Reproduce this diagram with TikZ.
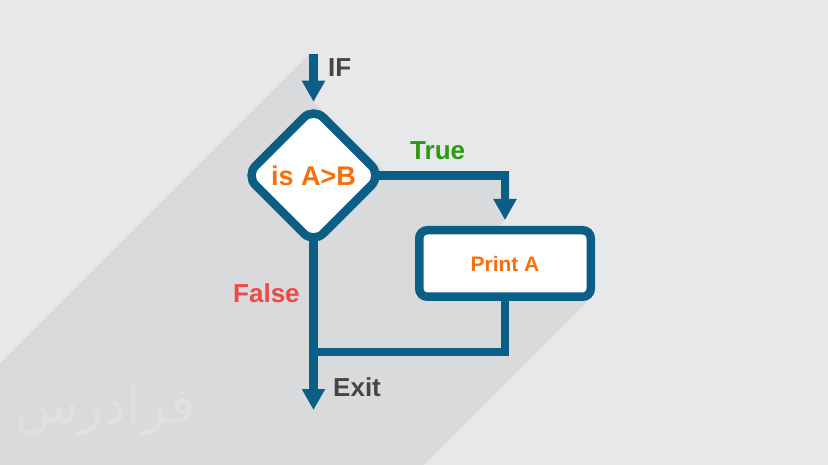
\documentclass[tikz,border=0pt]{standalone}
\usepackage{fontspec}
\setmainfont{Liberation Sans}
\newfontfamily\arabicfont[Script=Arabic]{DejaVu Sans}
\TeXXeTstate=1
\usepackage{xcolor}
\usepackage{tikz}
\usetikzlibrary{arrows.meta,positioning,shapes.geometric,backgrounds}

\definecolor{flowblue}{HTML}{0B5E85}
\definecolor{textorange}{HTML}{FA6E0A}
\definecolor{truegreen}{HTML}{2C9A10}
\definecolor{falsered}{HTML}{F04848}
\definecolor{labelgray}{HTML}{454545}
\definecolor{bggray}{HTML}{E7E8EA}
\definecolor{shadowgray}{HTML}{D9DADC}
\definecolor{markgray}{HTML}{DFE0E2}

\begin{document}
\begin{tikzpicture}[
  x=1pt, y=-1pt,
  decision/.style={diamond, draw=flowblue, line width=8.5pt, fill=white, rounded corners=14pt, minimum width=139pt, minimum height=139pt, inner sep=0pt, text=textorange, font=\fontsize{27}{30}\selectfont\bfseries},
  action/.style={rectangle, draw=flowblue, line width=8.5pt, fill=white, rounded corners=8pt, minimum width=171.5pt, minimum height=66.5pt, inner sep=0pt, text=textorange, font=\fontsize{21}{24}\selectfont\bfseries},
  lbl/.style={inner sep=0pt, anchor=base west, font=\fontsize{26}{30}\selectfont\bfseries},
  flow/.style={draw=flowblue, line width=8.5pt},
  arr/.style={flow, -{Triangle[width=22pt,length=21pt]}}
]
  \useasboundingbox (0,0) rectangle (828,465);

  % Decision and action
  \node[decision] (cond) at (313.5,175.5) {is A>B};
  \node[action] (print) at (505,263.5) {Print A};
  \coordinate (ifstart) at (313.5,54);
  \coordinate (exit) at (313.5,410);
  \coordinate (join) at (313.5,352);

  % Labels
  \node[lbl, text=labelgray] (iflbl) at (328,77) {IF};
  \node[lbl, text=truegreen] (truelbl) at (410,160) {True};
  \node[lbl, text=falsered] (falselbl) at (233,303) {False};
  \node[lbl, text=labelgray] (exitlbl) at (333,396) {Exit};

  \begin{scope}[on background layer]
    \fill[bggray] (0,0) rectangle (828,465);
    % Long shadow
    \fill[shadowgray] (0,363.25) -- (309.25,54) -- (317.75,54) -- (317.75,82.4) -- (324.5,82.4)
      -- (313.5,102) -- (385,171.25) -- (509.75,171.25) -- (509.75,199) -- (516.5,199)
      -- (505,220) -- (497,228) -- (590,228) -- (590,298.6) -- (423.6,465) -- (0,465) -- cycle;
    \node[font=\arabicfont\fontsize{52}{52}\selectfont, text=markgray] (mark) at (105,410) {\beginR فرادرس\endR};
    % Connectors
    \draw[arr] (ifstart) -- (cond.north);
    \draw[arr, shorten >=6pt] (cond.center) -| (print.north);
    \draw[arr] (cond.center) -- (exit);
    \draw[flow] (print.center) |- (join);
  \end{scope}
\end{tikzpicture}
\end{document}
